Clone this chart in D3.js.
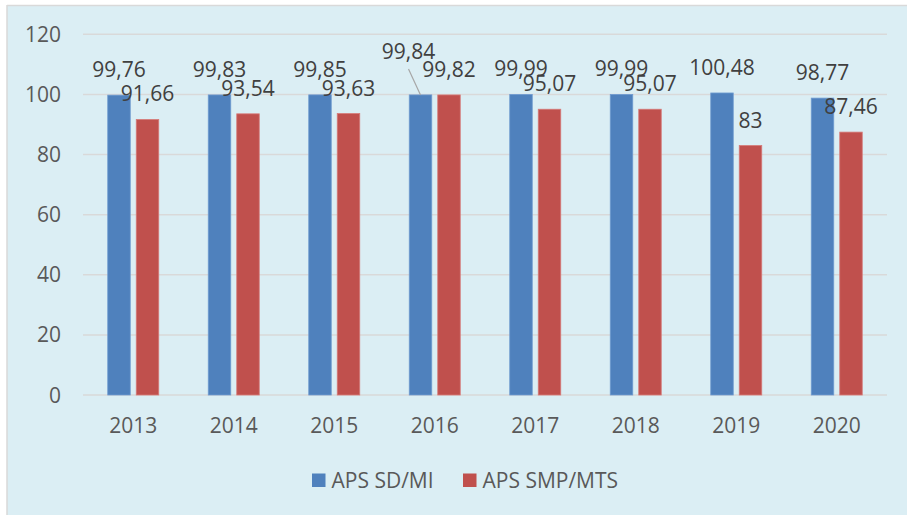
<!DOCTYPE html>
<html>
<head>
<meta charset="utf-8">
<script src="https://cdn.jsdelivr.net/npm/d3@7"></script>
<style>
  body { margin: 0; background: #fff; }
  text { font-family: "Open Sans", sans-serif; }
</style>
</head>
<body>
<svg width="907" height="515"></svg>
<script>
var years = ["2013", "2014", "2015", "2016", "2017", "2018", "2019", "2020"];
var sdmi = [99.76, 99.83, 99.85, 99.84, 99.99, 99.99, 100.48, 98.77];
var smpmts = [91.66, 93.54, 93.63, 99.82, 95.07, 95.07, 83, 87.46];
var seriesNames = ["APS SD/MI", "APS SMP/MTS"];
var yTicks = [0, 20, 40, 60, 80, 100, 120];

var colors = ["#4f81bd", "#c0504d"];
var svg = d3.select("svg");

// chart area background + border
svg.append("rect").attr("x", 7).attr("y", 5).attr("width", 900).attr("height", 510)
  .attr("fill", "#dbeef4");
svg.append("line").attr("x1", 7).attr("x2", 907).attr("y1", 5.5).attr("y2", 5.5)
  .attr("stroke", "#d9d9d9").attr("stroke-width", 1.5);
svg.append("line").attr("x1", 7).attr("x2", 7).attr("y1", 5).attr("y2", 515)
  .attr("stroke", "#d9d9d9").attr("stroke-width", 1.5);

var x = d3.scaleBand().domain(years).range([83, 887]);
var y = d3.scaleLinear().domain([0, 120]).range([395, 34.3]);
var barW = 22.5, gap = 6;
var fs = "21px";

var g = svg.append("g");

// gridlines
g.selectAll(".grid").data(yTicks).enter().append("line")
  .attr("x1", 83).attr("x2", 887)
  .attr("y1", function(d) { return y(d); }).attr("y2", function(d) { return y(d); })
  .attr("stroke", "#d9d9d9").attr("stroke-width", 1.5);

// y axis labels
g.selectAll(".ylab").data(yTicks).enter().append("text")
  .attr("x", 61).attr("y", function(d) { return y(d); }).attr("dy", "0.36em")
  .attr("text-anchor", "end").attr("font-size", fs).attr("fill", "#595959")
  .text(function(d) { return d; });

// x axis labels
g.selectAll(".xlab").data(years).enter().append("text")
  .attr("x", function(d) { return x(d) + x.bandwidth() / 2; }).attr("y", 433)
  .attr("text-anchor", "middle").attr("font-size", fs).attr("fill", "#595959")
  .text(function(d) { return d; });

var series = [sdmi, smpmts];
function barX(i, s) {
  var c = x(years[i]) + x.bandwidth() / 2;
  return s === 0 ? c - gap / 2 - barW : c + gap / 2;
}

series.forEach(function(vals, s) {
  g.selectAll(".bar" + s).data(vals).enter().append("rect")
    .attr("x", function(d, i) { return barX(i, s); })
    .attr("y", function(d) { return y(d); })
    .attr("width", barW)
    .attr("height", function(d) { return y(0) - y(d); })
    .attr("fill", colors[s])
    .attr("stroke", s === 0 ? "#6f9bd0" : "#d67a78").attr("stroke-width", 0.8);
});

// labels; 2016 blue label was dragged up-left with a leader line
var moved = { s: 0, i: 3, dx: -12, dy: -18 };
series.forEach(function(vals, s) {
  g.selectAll(".lab" + s).data(vals).enter().append("text")
    .attr("x", function(d, i) {
      var cx = barX(i, s) + barW / 2;
      return (s === moved.s && i === moved.i) ? cx + moved.dx : cx;
    })
    .attr("y", function(d, i) {
      var ty = y(d) - 18;
      return (s === moved.s && i === moved.i) ? ty + moved.dy : ty;
    })
    .attr("text-anchor", "middle").attr("font-size", fs).attr("fill", "#404040")
    .text(function(d) { return String(d).replace(".", ","); });
});

// leader line for moved label
var lx = barX(moved.i, moved.s) + barW / 2;
var ly = y(series[moved.s][moved.i]);
g.append("line")
  .attr("x1", lx).attr("y1", ly)
  .attr("x2", lx + moved.dx).attr("y2", ly - 26)
  .attr("stroke", "#a6a6a6").attr("stroke-width", 1.2);

// legend
var legend = svg.append("g");
var legX = [312, 463];
seriesNames.forEach(function(name, s) {
  legend.append("rect").attr("x", legX[s]).attr("y", 473.5).attr("width", 13.5).attr("height", 13.5)
    .attr("fill", colors[s]);
  legend.append("text").attr("x", legX[s] + 19.5).attr("y", 487.5)
    .attr("font-size", fs).attr("fill", "#595959").text(name);
});
</script>
</body>
</html>
